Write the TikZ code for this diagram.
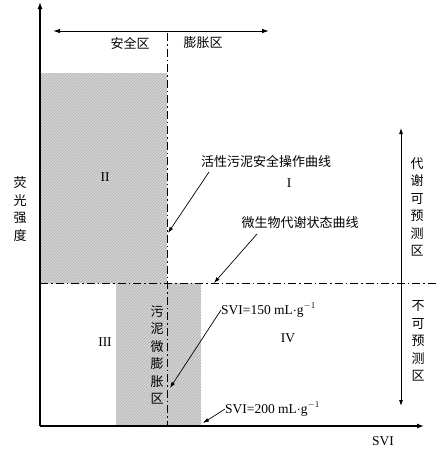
\documentclass[tikz,border=0pt]{standalone}
\usepackage{fontspec}
\setmainfont{Liberation Serif}
\newfontfamily\cjk{Noto Sans CJK SC}
\usetikzlibrary{patterns}
\usetikzlibrary{arrows.meta}
\definecolor{zonegray}{gray}{0.83}
\definecolor{hatchgray}{gray}{0.70}
\tikzset{
	axisline/.style={line width=1.3pt, -{Latex[length=7pt,width=5pt]}},
	rangeline/.style={line width=0.9pt, {Latex[length=7pt,width=4.5pt]}-{Latex[length=7pt,width=4.5pt]}},
	dashdot/.style={line width=0.9pt, dash pattern=on 8pt off 3pt on 1.5pt off 3pt},
	callout/.style={line width=0.7pt, -{Latex[length=6pt,width=4pt]}},
	zone/.style={fill=zonegray},
	hatch/.style={pattern=north east lines, pattern color=hatchgray},
	cjklabel/.style={inner sep=0pt, font=\cjk\fontsize{13}{13}\selectfont},
	vlabel/.style={inner sep=0pt, align=center, font=\cjk\fontsize{13}{17.5}\selectfont},
	numlabel/.style={inner sep=0pt, font=\fontsize{13.5}{13.5}\selectfont}
}
\begin{document}
\begin{tikzpicture}[x=1pt, y=-1pt]
	\useasboundingbox (0,0) rectangle (444,450);
	
	% gray zones
	\fill[zone] (40,73) rectangle (167,283);
	\fill[hatch] (40,73) rectangle (167,283);
	\fill[zone] (116,283) rectangle (201,426);
	\fill[hatch] (116,283) rectangle (201,426);
	
	% Axes
	\coordinate (O) at (40,426);
	\coordinate (ytop) at (40,2);
	\coordinate (xend) at (424,426);
	\draw[axisline] (O) -- (ytop);
	\draw[axisline] (O) -- (xend);
	\node[numlabel] (svi) at (383,441) {SVI};
	\node[vlabel] (fluor) at (20,209) {荧\\光\\强\\度};
	
	% safe / swelling range
	\coordinate (rangeL) at (53,31);
	\coordinate (rangeR) at (269,31);
	\draw[rangeline] (rangeL) -- (rangeR);
	\node[cjklabel] (safe) at (130,43) {安全区};
	\node[cjklabel] (swell) at (203,43) {膨胀区};
	
	% curves
	\coordinate (safeTop) at (167,33);
	\coordinate (safeBot) at (167,426);
	\draw[dashdot] (safeTop) -- (safeBot);
	\coordinate (stateL) at (40,283);
	\coordinate (stateR) at (436,283);
	\draw[dashdot] (stateL) -- (stateR);
	
	% regions
	\node[numlabel] (r2) at (105,177) {II};
	\node[numlabel] (r1) at (289,183) {I};
	\node[numlabel] (r3) at (105,342) {III};
	\node[numlabel] (r4) at (288,338) {IV};
	\node[vlabel] (micro) at (157,355) {污\\泥\\微\\膨\\胀\\区};
	
	% predictable / unpredictable
	\coordinate (predMid) at (401,283);
	\coordinate (predTop) at (401,128);
	\coordinate (predBot) at (401,406);
	\draw[callout, line width=0.8pt] (predMid) -- (predTop);
	\draw[callout, line width=0.8pt] (predMid) -- (predBot);
	\node[vlabel] (pred) at (417,207) {代\\谢\\可\\预\\测\\区};
	\node[vlabel] (unpred) at (418,341) {不\\可\\预\\测\\区};
	
	% callouts
	\node[cjklabel] (safecurve) at (266,161) {活性污泥安全操作曲线};
	\coordinate (safeTail) at (209,172);
	\coordinate (safeHead) at (168,233);
	\draw[callout] (safeTail) -- (safeHead);
	
	\node[cjklabel] (statecurve) at (300,223) {微生物代谢状态曲线};
	\coordinate (stateTail) at (257,234);
	\coordinate (stateHead) at (214,283);
	\draw[callout] (stateTail) -- (stateHead);
	
	\node[numlabel, anchor=west] (svi150) at (221,310) {SVI=150 mL$\cdot$g$^{-1}$};
	\coordinate (s150Head) at (170,388);
	\draw[callout] (svi150.west) -- (s150Head);
	
	\node[numlabel, anchor=west] (svi200) at (225,409) {SVI=200 mL$\cdot$g$^{-1}$};
	\coordinate (s200Head) at (203,423);
	\draw[callout] (svi200.west) -- (s200Head);
\end{tikzpicture}
\end{document}
